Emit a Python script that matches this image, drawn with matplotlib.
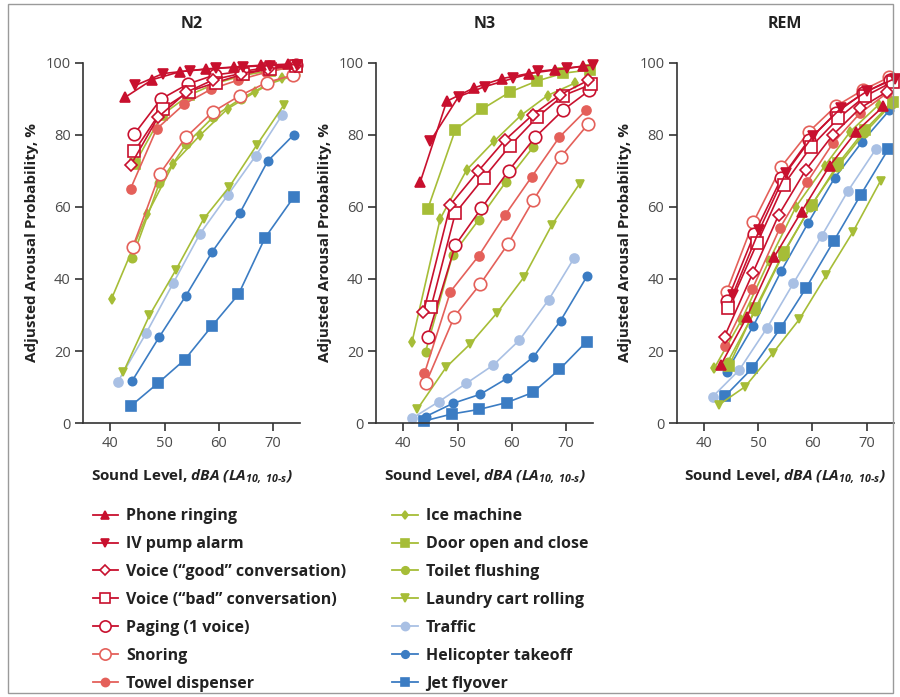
import matplotlib
matplotlib.use("Agg")
import matplotlib.pyplot as plt
from matplotlib.lines import Line2D
from matplotlib.patches import Rectangle

plt.rcParams['font.family'] = ['Open Sans', 'DejaVu Sans']
plt.rcParams['mathtext.fontset'] = 'custom'
plt.rcParams['mathtext.it'] = 'Open Sans:italic:bold'
plt.rcParams['mathtext.rm'] = 'Open Sans:italic:bold'
plt.rcParams['mathtext.bf'] = 'Open Sans:italic:bold'

PANELS = ["N2", "N3", "REM"]
SERIES = ["Phone ringing", "IV pump alarm", "Voice (\u201cgood\u201d conversation)",
          "Voice (\u201cbad\u201d conversation)", "Paging (1 voice)", "Snoring",
          "Towel dispenser", "Ice machine", "Door open and close", "Toilet flushing",
          "Laundry cart rolling", "Traffic", "Helicopter takeoff", "Jet flyover"]
KEYS = ["phone", "iv", "good", "bad", "paging", "snoring", "towel",
        "ice", "door", "toilet", "laundry", "traffic", "heli", "jet"]

# ---------------- N2 ----------------
N2_X = {
    "phone":   [42.7, 47.7, 52.8, 57.7, 62.7, 67.7, 72.7],
    "iv":      [44.6, 49.7, 54.6, 59.5, 64.5, 69.5, 74.4],
    "good":    [43.7, 48.8, 54.0, 59.0, 64.0, 69.0, 74.0],
    "bad":     [44.4, 49.6, 54.5, 59.4, 64.4, 69.4, 74.3],
    "paging":  [44.4, 49.3, 54.3, 59.2, 64.2, 69.3, 74.2],
    "snoring": [44.1, 49.1, 53.9, 58.9, 63.9, 68.8, 73.7],
    "towel":   [43.7, 48.5, 53.6, 58.6, 63.6, 68.6, 73.8],
    "ice":     [40.2, 46.8, 51.6, 56.6, 61.6, 66.6, 71.6],
    "door":    [44.5, 49.5, 54.5, 59.5, 64.5, 69.5, 74.4],
    "toilet":  [44.0, 49.0, 54.0, 59.0, 64.0, 69.0, 74.0],
    "laundry": [42.4, 47.2, 52.1, 57.2, 61.9, 67.0, 72.0],
    "traffic": [41.3, 46.6, 51.6, 56.5, 61.6, 66.8, 71.7],
    "heli":    [44.0, 49.0, 53.9, 58.8, 63.9, 69.0, 73.8],
    "jet":     [43.8, 48.7, 53.7, 58.7, 63.6, 68.5, 73.8],
}
N2_Y = {
    "phone":   [90.4, 95.3, 97.5, 98.3, 98.8, 99.3, 99.6],
    "iv":      [93.7, 97.0, 97.8, 98.4, 98.9, 99.2, 99.5],
    "good":    [71.5, 84.9, 91.8, 95.3, 97.0, 98.3, 99.2],
    "bad":     [75.4, 87.2, 92.0, 94.5, 96.8, 98.3, 99.2],
    "paging":  [80.2, 89.9, 94.1, 96.6, 97.6, 98.7, 99.3],
    "snoring": [48.8, 69.2, 79.3, 86.4, 90.9, 94.5, 96.6],
    "towel":   [65.0, 81.6, 88.5, 92.7, 95.2, 97.3, 99.0],
    "ice":     [34.5, 58.0, 72.0, 80.0, 87.2, 91.8, 95.9],
    "door":    [72.0, 85.5, 91.0, 94.3, 96.5, 97.8, 98.8],
    "toilet":  [45.7, 66.5, 77.5, 85.0, 90.0, 94.0, 96.5],
    "laundry": [14.2, 29.9, 42.6, 56.7, 65.5, 77.2, 88.3],
    "traffic": [11.3, 25.0, 38.9, 52.5, 63.2, 74.2, 85.6],
    "heli":    [11.7, 23.9, 35.3, 47.6, 58.4, 72.7, 80.0],
    "jet":     [4.8, 11.0, 17.6, 26.9, 35.7, 51.4, 62.7],
}

# ---------------- N3 ----------------
N3_X = {
    "phone":   [43.1, 48.0, 53.0, 58.2, 63.1, 68.0, 73.1],
    "iv":      [45.0, 50.2, 55.1, 60.3, 64.9, 70.1, 75.0],
    "good":    [43.7, 48.7, 53.8, 58.8, 63.9, 68.9, 74.1],
    "bad":     [45.1, 49.6, 54.8, 59.7, 64.7, 69.5, 74.7],
    "paging":  [44.5, 49.6, 54.4, 59.4, 64.3, 69.5, 74.3],
    "snoring": [44.2, 49.4, 54.2, 59.3, 64.0, 69.0, 74.1],
    "towel":   [43.9, 48.7, 53.9, 58.8, 63.7, 68.8, 73.7],
    "ice":     [41.6, 46.8, 51.7, 56.8, 61.7, 66.6, 71.7],
    "door":    [44.5, 49.6, 54.6, 59.7, 64.6, 69.5, 74.4],
    "toilet":  [44.1, 49.1, 53.9, 58.9, 63.9],
    "laundry": [42.6, 47.9, 52.3, 57.3, 62.2, 67.4, 72.5],
    "traffic": [41.6, 46.5, 51.6, 56.6, 61.4, 66.8, 71.5],
    "heli":    [44.1, 49.2, 54.2, 59.1, 64.0, 69.0, 73.9],
    "jet":     [43.9, 48.9, 54.0, 59.1, 63.9, 68.8, 73.8],
}
N3_Y = {
    "phone":   [66.8, 89.3, 93.0, 95.6, 97.0, 98.0, 99.0],
    "iv":      [78.3, 90.6, 93.4, 95.7, 97.6, 98.5, 99.4],
    "good":    [30.7, 60.6, 69.9, 78.6, 85.6, 91.1, 95.1],
    "bad":     [32.1, 58.3, 68.0, 77.0, 84.9, 90.9, 94.0],
    "paging":  [24.0, 49.4, 59.6, 70.0, 79.3, 86.9, 92.3],
    "snoring": [11.2, 29.5, 38.6, 49.7, 61.9, 73.8, 83.0],
    "towel":   [13.8, 36.5, 46.4, 57.8, 68.4, 79.4, 86.8],
    "ice":     [22.5, 56.7, 70.3, 78.3, 85.4, 90.9, 94.4],
    "door":    [59.4, 81.4, 87.2, 91.9, 94.9, 97.1, 98.0],
    "toilet":  [19.8, 46.7, 56.4, 66.9, 76.5],
    "laundry": [3.9, 15.5, 21.9, 30.6, 40.4, 55.0, 66.4],
    "traffic": [1.3, 5.9, 11.0, 16.1, 23.0, 34.2, 45.8],
    "heli":    [1.8, 5.5, 8.0, 12.4, 18.4, 28.4, 40.8],
    "jet":     [0.6, 2.5, 3.8, 5.7, 8.5, 14.9, 22.6],
}

# ---------------- REM ----------------
REM_X = {
    "phone":   [43.1, 47.9, 53.0, 58.0, 63.2, 68.1, 73.1],
    "iv":      [45.3, 50.2, 55.1, 60.1, 65.2, 70.1, 75.2],
    "good":    [43.8, 49.0, 53.8, 58.8, 63.8, 68.8, 73.8],
    "bad":     [44.5, 49.8, 54.7, 59.7, 64.8, 69.7, 74.8],
    "paging":  [44.3, 49.3, 54.3, 59.3, 64.3, 69.3, 74.3],
    "snoring": [44.2, 49.1, 54.3, 59.4, 64.3, 69.4, 74.2],
    "towel":   [43.8, 48.9, 54.0, 59.0, 63.8, 68.8, 73.8],
    "ice":     [41.9, 46.9, 52.0, 57.0, 62.3, 67.0, 72.2],
    "door":    [44.6, 49.5, 54.7, 59.9, 64.8, 69.7, 74.8],
    "toilet":  [44.4, 49.4, 54.5, 59.6, 64.6, 69.6, 74.6],
    "laundry": [42.7, 47.6, 52.7, 57.6, 62.6, 67.5, 72.6],
    "traffic": [41.6, 46.5, 51.6, 56.5, 61.7, 66.6, 71.7],
    "heli":    [44.2, 49.1, 54.3, 59.2, 64.1, 69.2, 74.2],
    "jet":     [43.9, 48.9, 54.1, 58.8, 63.9, 68.9, 74.0],
}
REM_Y = {
    "phone":   [16.1, 29.4, 46.2, 58.7, 71.4, 80.9, 87.9],
    "iv":      [35.6, 53.5, 69.4, 79.6, 87.3, 92.1, 95.6],
    "good":    [24.0, 41.6, 57.8, 70.3, 80.0, 87.4, 92.0],
    "bad":     [31.9, 49.9, 66.1, 76.6, 84.6, 90.7, 94.7],
    "paging":  [34.0, 52.5, 68.0, 78.5, 86.0, 91.5, 95.2],
    "snoring": [36.5, 55.7, 71.2, 80.9, 87.9, 92.5, 96.0],
    "towel":   [21.4, 37.1, 54.1, 66.8, 77.7, 86.0, 91.6],
    "ice":     [15.2, 28.5, 45.0, 60.1, 71.4, 80.9, 88.3],
    "door":    [15.8, 31.9, 47.4, 60.5, 72.1, 81.4, 89.2],
    "toilet":  [17.0, 31.0, 46.5, 60.0, 71.0, 80.5, 88.5],
    "laundry": [5.0, 10.1, 19.4, 28.8, 41.1, 53.1, 67.3],
    "traffic": [7.3, 14.7, 26.3, 38.8, 51.9, 64.5, 76.0],
    "heli":    [14.3, 26.9, 42.3, 55.5, 68.0, 78.1, 86.8],
    "jet":     [7.5, 15.2, 26.3, 37.4, 50.4, 63.3, 76.0],
}

X_TICKS = [40, 50, 60, 70]
Y_TICKS = [0, 20, 40, 60, 80, 100]

DARK = "#c8102e"
SALMON = "#e4605a"
GREEN = "#a6bd37"
LBLUE = "#a9c0e4"
BLUE = "#3b7cc3"
WHITE = "white"

STYLE = {
    "phone":   dict(color=DARK, marker="^", ms=6.5, mfc=DARK),
    "iv":      dict(color=DARK, marker="v", ms=6.5, mfc=DARK),
    "good":    dict(color=DARK, marker="D", ms=6, mfc=WHITE),
    "bad":     dict(color=DARK, marker="s", ms=8, mfc=WHITE),
    "paging":  dict(color=DARK, marker="o", ms=9, mfc=WHITE),
    "snoring": dict(color=SALMON, marker="o", ms=9, mfc=WHITE),
    "towel":   dict(color=SALMON, marker="o", ms=6.5, mfc=SALMON),
    "ice":     dict(color=GREEN, marker="d", ms=5, mfc=GREEN),
    "door":    dict(color=GREEN, marker="s", ms=6.5, mfc=GREEN),
    "toilet":  dict(color=GREEN, marker="o", ms=6, mfc=GREEN),
    "laundry": dict(color=GREEN, marker="v", ms=6, mfc=GREEN),
    "traffic": dict(color=LBLUE, marker="o", ms=6.5, mfc=LBLUE),
    "heli":    dict(color=BLUE, marker="o", ms=6, mfc=BLUE),
    "jet":     dict(color=BLUE, marker="s", ms=7, mfc=BLUE),
}

DATA = {"N2": (N2_X, N2_Y), "N3": (N3_X, N3_Y), "REM": (REM_X, REM_Y)}

fig = plt.figure(figsize=(9, 6.97), dpi=100)
fig.patches.append(Rectangle((0.009, 0.006), 0.983, 0.988, transform=fig.transFigure,
                             fill=False, edgecolor="#9a9a9a", lw=1.0))

lefts = [0.0926, 0.418, 0.752]
width = 0.241
bottom = 0.393
height = 0.517

draw_order = list(reversed(KEYS))
for i, p in enumerate(PANELS):
    ax = fig.add_axes([lefts[i], bottom, width, height])
    xs, ys = DATA[p]
    for k in draw_order:
        st = STYLE[k]
        ax.plot(xs[k], ys[k], color=st["color"], marker=st["marker"], ms=st["ms"],
                mfc=st["mfc"], mec=st["color"], mew=1.2, lw=1.2, clip_on=False)
    ax.set_xlim(35, 75)
    ax.set_ylim(0, 100)
    ax.set_xticks(X_TICKS)
    ax.set_yticks(Y_TICKS)
    for s in ["top", "right"]:
        ax.spines[s].set_visible(False)
    for s in ["left", "bottom"]:
        ax.spines[s].set_color("#333333")
        ax.spines[s].set_linewidth(1.2)
    ax.tick_params(direction="out", length=6, width=1.2, color="#333333",
                   labelsize=10.5, labelcolor="#4a4a4a", pad=3)
    ax.set_title(p, fontsize=11.5, fontweight="bold", pad=25, color="#222222")
    ax.set_ylabel("Adjusted Arousal Probability, %", fontsize=11, fontweight="bold",
                  color="#222222", labelpad=5)
    ax.set_xlabel(r"Sound Level, $dBA$ $(LA_{10,\ 10\text{-}s})$", fontsize=11,
                  fontweight="bold", color="#222222", labelpad=12)

def handle(k):
    st = STYLE[k]
    return Line2D([], [], color=st["color"], marker=st["marker"], ms=st["ms"] * 0.9,
                  mfc=st["mfc"], mec=st["color"], mew=1.2, lw=1.3)

h1 = [handle(k) for k in KEYS[:7]]
h2 = [handle(k) for k in KEYS[7:]]
leg_kw = dict(frameon=False, fontsize=11.5, handlelength=1.6, handletextpad=0.5,
              labelspacing=0.75, borderaxespad=0, borderpad=0)
l1 = fig.legend(h1, SERIES[:7], loc="upper left", bbox_to_anchor=(0.103, 0.271), **leg_kw)
l2 = fig.legend(h2, SERIES[7:], loc="upper left", bbox_to_anchor=(0.436, 0.271), **leg_kw)
for leg in (l1, l2):
    for t in leg.get_texts():
        t.set_fontweight("bold")
        t.set_color("#222222")

fig.savefig("out.png", dpi=100)
